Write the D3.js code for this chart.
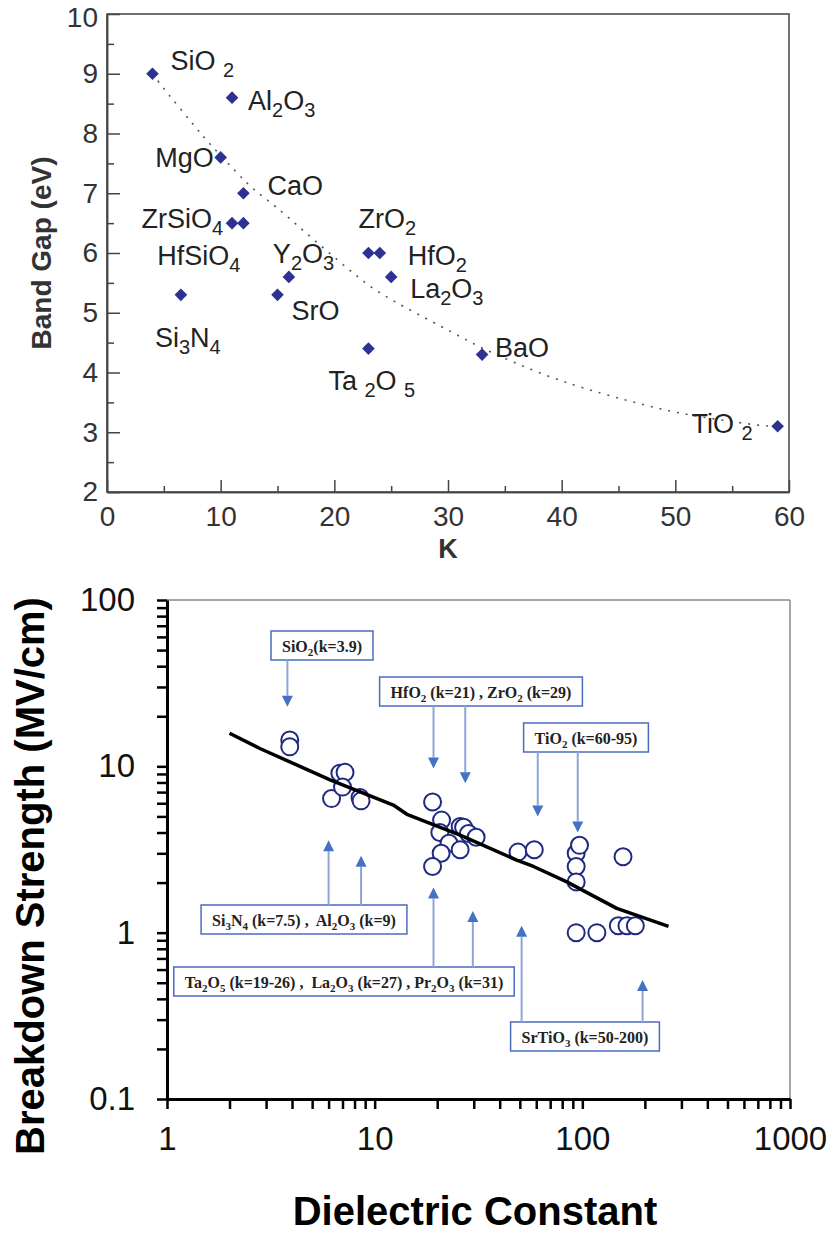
<!DOCTYPE html>
<html>
<head>
<meta charset="utf-8">
<script src="https://cdn.jsdelivr.net/npm/d3@7"></script>
<style>
body { margin: 0; background: #fff; }
text { white-space: pre; }
</style>
</head>
<body>
<div id="chart"></div>
<script>
// top panel: band gap vs K ("_" marks a subscript character)
var oxideNames = ["SiO _2", "Al_2O_3", "MgO", "CaO", "ZrSiO_4", "HfSiO_4", "Y_2O_3", "ZrO_2", "HfO_2",
    "La_2O_3", "Si_3N_4", "SrO", "Ta _2O _5", "BaO", "TiO _2"];
var oxideK = [4, 11, 10, 12, 11, 12, 16, 23, 24, 25, 6.5, 15, 23, 33, 59];
var oxideGap = [9, 8.6, 7.6, 7.0, 6.5, 6.5, 5.6, 6, 6, 5.6, 5.3, 5.3, 4.4, 4.3, 3.1];
var gapTrendK = [4, 5.2, 7.6, 8.9, 11.4, 12.9, 14.9, 17.2, 21.4, 23.7, 27.1, 31.6, 33, 38.7, 43.4, 47.8, 50.7, 57.6, 59];
var gapTrendE = [9, 8.7, 8.15, 7.85, 7.35, 7.05, 6.78, 6.38, 5.7, 5.35, 5.0, 4.55, 4.4, 3.93, 3.65, 3.43, 3.3, 3.1, 3.1];
var topXTicks = [0, 10, 20, 30, 40, 50, 60];
var topYTicks = [2, 3, 4, 5, 6, 7, 8, 9, 10];

// bottom panel: breakdown strength vs dielectric constant
var dielK = [3.9, 3.9, 6.2, 6.8, 7.2, 7.0, 8.5, 8.6,
    19, 21, 20.6, 25.8, 26.8, 28.3, 30.8, 22.8, 25.8, 20.9, 19,
    49, 58.7, 93.4, 93.4, 93.4, 96.9, 157, 93.4, 117.5, 149, 164, 180];
var dielEbd = [14.4, 13.1, 6.4, 9.1, 9.2, 7.5, 6.5, 6.2,
    6.1, 4.75, 4.0, 4.35, 4.3, 3.95, 3.75, 3.45, 3.15, 3.0, 2.5,
    3.05, 3.15, 3.0, 2.5, 2.02, 3.35, 2.86, 1.0, 1.0, 1.1, 1.1, 1.1];
var fitK = [2, 2.8, 6.1, 12.3, 14.3, 25.8, 48.3, 58.2, 84.2, 146.5, 260];
var fitEbd = [15.8, 12.8, 8.3, 5.85, 5.15, 3.86, 2.73, 2.5, 2.02, 1.4, 1.09];
var noteTexts = ["SiO_2(k=3.9)", "HfO_2 (k=21) , ZrO_2 (k=29)", "TiO_2 (k=60-95)",
    "Si_3N_4 (k=7.5) ,  Al_2O_3 (k=9)", "Ta_2O_5 (k=19-26) ,  La_2O_3 (k=27) , Pr_2O_3 (k=31)", "SrTiO_3 (k=50-200)"];
var noteArrowK = [[3.8], [19.2, 27.3], [61, 95], [6.0, 8.6], [19.2, 29.7], [51, 195]];
var noteArrowTip = [[22.8], [9.7, 7.9], [5.0, 4.0], [3.6, 2.9], [1.87, 1.35], [1.1, 0.52]];

var svg = d3.select("#chart").append("svg")
    .attr("width", 835)
    .attr("height", 1234);

// writes a formula string into a text element, "_x" -> subscript x
function addFormula(sel, str, subSize, shift) {
    var parts = [];
    for (var i = 0; i < str.length; i++) {
        if (str[i] === "_") {
            parts.push({t: str[i + 1], sub: true});
            i++;
        } else if (parts.length && !parts[parts.length - 1].sub) {
            parts[parts.length - 1].t += str[i];
        } else {
            parts.push({t: str[i], sub: false});
        }
    }
    var prevSub = false;
    parts.forEach(function (p) {
        var ts = sel.append("tspan").text(p.t);
        if (p.sub && !prevSub) ts.attr("dy", shift);
        if (p.sub) ts.attr("font-size", subSize);
        if (!p.sub && prevSub) ts.attr("dy", -shift);
        prevSub = p.sub;
    });
}

// ================= top chart =================
var xTop = d3.scaleLinear().domain([0, 60]).range([107, 789]);
var yTop = d3.scaleLinear().domain([2, 10]).range([492, 14]);

var topG = svg.append("g").attr("font-family", "Liberation Sans, Arial, sans-serif");

topG.append("rect")
    .attr("x", xTop(0)).attr("y", yTop(10))
    .attr("width", xTop(60) - xTop(0)).attr("height", yTop(2) - yTop(10))
    .attr("fill", "none").attr("stroke", "#444").attr("stroke-width", 1.5);

var yAxTop = topG.append("g")
    .attr("transform", "translate(" + xTop(0) + ",0)")
    .call(d3.axisLeft(yTop).tickValues(topYTicks).tickSizeInner(-13).tickSizeOuter(0).tickPadding(9));
var yMinTop = topG.append("g")
    .attr("transform", "translate(" + xTop(0) + ",0)")
    .call(d3.axisLeft(yTop).tickValues(topYTicks.slice(0, -1).map(function (d) { return d + 0.5; }))
        .tickSizeInner(-7).tickSizeOuter(0).tickFormat(""));
var xAxTop = topG.append("g")
    .attr("transform", "translate(0," + yTop(2) + ")")
    .call(d3.axisBottom(xTop).tickValues(topXTicks).tickSizeInner(-12).tickSizeOuter(0).tickPadding(14));
var xMinTop = topG.append("g")
    .attr("transform", "translate(0," + yTop(2) + ")")
    .call(d3.axisBottom(xTop).tickValues(topXTicks.slice(0, -1).map(function (d) { return d + 5; }))
        .tickSizeInner(-6).tickSizeOuter(0).tickFormat(""));

[yAxTop, yMinTop, xAxTop, xMinTop].forEach(function (a) {
    a.select(".domain").attr("stroke", "#444").attr("stroke-width", 1.5);
    a.selectAll(".tick line").attr("stroke", "#444").attr("stroke-width", 1.5);
    a.selectAll(".tick text").attr("font-size", 28).attr("fill", "#333")
        .attr("font-family", "Liberation Sans, Arial, sans-serif");
});
// keep the top label inside the page
yAxTop.selectAll(".tick text").filter(function (d) { return d === 10; }).attr("dy", "0.45em");

topG.append("text")
    .attr("transform", "translate(51,253) rotate(-90)")
    .attr("text-anchor", "middle")
    .attr("font-size", 28).attr("font-weight", "bold").attr("fill", "#333")
    .text("Band Gap (eV)");
topG.append("text")
    .attr("x", 448).attr("y", 558)
    .attr("text-anchor", "middle")
    .attr("font-size", 27).attr("font-weight", "bold").attr("fill", "#333")
    .text("K");

var trendTop = d3.line()
    .x(function (d, i) { return xTop(gapTrendK[i]); })
    .y(function (d, i) { return yTop(gapTrendE[i]); })
    .curve(d3.curveBasis);
topG.append("path")
    .attr("d", trendTop(gapTrendK))
    .attr("fill", "none").attr("stroke", "#555")
    .attr("stroke-width", 1.6).attr("stroke-dasharray", "2,7");

topG.selectAll(".dia")
    .data(oxideK)
    .enter().append("path")
    .attr("class", "dia")
    .attr("d", d3.symbol(d3.symbolSquare, 80))
    .attr("transform", function (d, i) {
        return "translate(" + xTop(d) + "," + yTop(oxideGap[i]) + ") rotate(45)";
    })
    .attr("fill", "#2e3192");

// label offsets from each point [dx, dy, anchor]
var labelOffsets = [[18, -4, "start"], [16, 12, "start"], [-7, 10, "end"], [24, 2, "start"],
    [-9, 5, "end"], [-3, 42, "end"], [-16, -14, "start"], [-10, -25, "start"], [28, 12, "start"],
    [19, 21, "start"], [-26, 52, "start"], [14, 25, "start"], [-40, 41, "start"], [13, 2, "start"],
    [-25, 7, "end"]];

oxideNames.forEach(function (name, i) {
    var t = topG.append("text")
        .attr("x", xTop(oxideK[i]) + labelOffsets[i][0])
        .attr("y", yTop(oxideGap[i]) + labelOffsets[i][1])
        .attr("text-anchor", labelOffsets[i][2])
        .attr("font-size", 27).attr("fill", "#222");
    addFormula(t, name, 20, 7);
});

// ================= bottom chart =================
var xBot = d3.scaleLog().domain([1, 1000]).range([167, 790]);
var yBot = d3.scaleLog().domain([0.1, 100]).range([1099, 600]);

var bot = svg.append("g").attr("font-family", "Liberation Sans, Arial, sans-serif");

function decadeLabel(d) {
    var l = Math.log10(d);
    return Math.abs(l - Math.round(l)) < 1e-9 ? d3.format("~g")(d) : "";
}

bot.append("line")
    .attr("x1", xBot(1)).attr("x2", xBot(1000))
    .attr("y1", yBot(100)).attr("y2", yBot(100))
    .attr("stroke", "#888").attr("stroke-width", 1.5);
bot.append("line")
    .attr("x1", xBot(1000)).attr("x2", xBot(1000))
    .attr("y1", yBot(100)).attr("y2", yBot(0.1))
    .attr("stroke", "#888").attr("stroke-width", 1.5);

var yAxBot = bot.append("g")
    .attr("transform", "translate(" + xBot(1) + ",0)")
    .call(d3.axisLeft(yBot).tickValues(yBot.ticks()).tickFormat(decadeLabel)
        .tickSizeInner(10).tickSizeOuter(0).tickPadding(22));
var xAxBot = bot.append("g")
    .attr("transform", "translate(0," + yBot(0.1) + ")")
    .call(d3.axisBottom(xBot).tickValues(xBot.ticks()).tickFormat(decadeLabel)
        .tickSizeInner(10).tickSizeOuter(0).tickPadding(18));

[yAxBot, xAxBot].forEach(function (a) {
    a.select(".domain").attr("stroke", "#000").attr("stroke-width", 3);
    a.selectAll(".tick line").attr("stroke", "#000").attr("stroke-width", 2.5);
    a.selectAll(".tick text").attr("font-size", 33).attr("fill", "#111")
        .attr("font-family", "Liberation Sans, Arial, sans-serif");
});

bot.append("text")
    .attr("transform", "translate(44,876) rotate(-90)")
    .attr("text-anchor", "middle")
    .attr("font-size", 40).attr("font-weight", "bold").attr("fill", "#000")
    .text("Breakdown Strength (MV/cm)");
bot.append("text")
    .attr("x", 475).attr("y", 1225)
    .attr("text-anchor", "middle")
    .attr("font-size", 40).attr("font-weight", "bold").attr("fill", "#000")
    .text("Dielectric Constant");

bot.selectAll(".pt")
    .data(dielK)
    .enter().append("circle")
    .attr("class", "pt")
    .attr("cx", function (d) { return xBot(d); })
    .attr("cy", function (d, i) { return yBot(dielEbd[i]); })
    .attr("r", 8.5)
    .attr("fill", "#fff")
    .attr("stroke", "#1f2a80")
    .attr("stroke-width", 2);

var fitLine = d3.line()
    .x(function (d, i) { return xBot(fitK[i]); })
    .y(function (d, i) { return yBot(fitEbd[i]); });
bot.append("path")
    .attr("d", fitLine(fitK))
    .attr("fill", "none").attr("stroke", "#000")
    .attr("stroke-width", 3.5).attr("stroke-linejoin", "round");

// annotation boxes: centre x and top y of each box
var noteBoxes = [[322, 631], [481, 677], [586, 723], [304, 905], [344, 967], [585, 1022]];
var boxH = 29;

noteTexts.forEach(function (txt, i) {
    var g = bot.append("g");
    var bx = noteBoxes[i][0], by = noteBoxes[i][1];
    var rect = g.append("rect");
    var t = g.append("text")
        .attr("x", bx).attr("y", by + 21)
        .attr("text-anchor", "middle")
        .attr("font-family", "Liberation Serif, Times New Roman, serif")
        .attr("font-weight", "bold")
        .attr("font-size", 16).attr("fill", "#222");
    addFormula(t, txt, 11, 4);
    var w = t.node().getComputedTextLength() + 22;
    rect.attr("x", bx - w / 2).attr("y", by)
        .attr("width", w).attr("height", boxH)
        .attr("fill", "#fff").attr("stroke", "#4a6cc0").attr("stroke-width", 1.5);

    noteArrowK[i].forEach(function (k, j) {
        var ax = xBot(k), tip = yBot(noteArrowTip[i][j]);
        var down = tip > by + boxH;
        var tail = down ? by + boxH : by;
        var hd = down ? -11 : 11;
        g.append("line")
            .attr("x1", ax).attr("x2", ax)
            .attr("y1", tail).attr("y2", tip + hd)
            .attr("stroke", "#8ea5d8").attr("stroke-width", 2);
        g.append("path")
            .attr("d", "M" + ax + "," + tip + "L" + (ax - 5.5) + "," + (tip + hd) + "L" + (ax + 5.5) + "," + (tip + hd) + "Z")
            .attr("fill", "#4472c4");
    });
});
</script>
</body>
</html>
